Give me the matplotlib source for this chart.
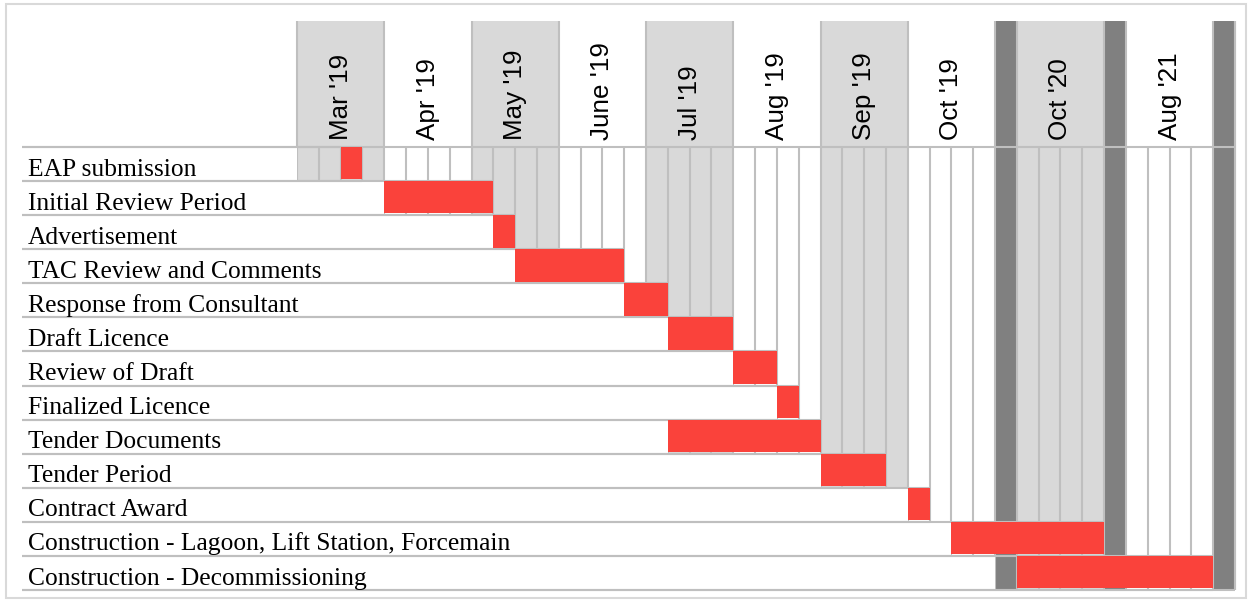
import numpy as np
import matplotlib.pyplot as plt
from matplotlib.patches import Rectangle

# Tasks, one per row (week columns counted from the first week of Mar '19)
tasks = ["EAP submission", "Initial Review Period", "Advertisement",
         "TAC Review and Comments", "Response from Consultant", "Draft Licence",
         "Review of Draft", "Finalized Licence", "Tender Documents",
         "Tender Period", "Contract Award",
         "Construction - Lagoon, Lift Station, Forcemain",
         "Construction - Decommissioning"]
start_week = [2, 4, 9, 10, 15, 17, 20, 22, 17, 24, 28, 30, 33]
duration_weeks = [1, 5, 1, 5, 2, 3, 2, 1, 7, 3, 1, 7, 9]
# column where the task's label cell stops covering the grid
label_end = [0, 4, 9, 10, 15, 17, 20, 22, 17, 24, 28, 30, 32]

# Header periods ("" = break column)
periods = ["Mar '19", "Apr '19", "May '19", "June '19", "Jul '19", "Aug '19",
           "Sep '19", "Oct '19", "", "Oct '20", "", "Aug '21", ""]
period_weeks = [4, 4, 4, 4, 4, 4, 4, 4, 1, 4, 1, 4, 1]
period_kind = ["shade", "plain", "shade", "plain", "shade", "plain",
               "shade", "plain", "break", "shade", "break", "plain", "break"]

RED = "#fa423b"
SHADE = "#d9d9d9"
DARK = "#808080"
LINE = "#bfbfbf"
fills = {"shade": SHADE, "plain": "white", "break": DARK}

# layout (pixels of the 1249x602 picture)
W, H = 1249, 602
grid_left, grid_right = 297, 1235
header_top, body_top, body_bottom = 21, 147, 590
table_left = 22

n_cols = sum(period_weeks)
n_rows = len(tasks)
cw = (grid_right - grid_left) / n_cols
rh = (body_bottom - body_top) / n_rows
label_left = (table_left - grid_left) / cw
header_h = (body_top - header_top) / rh

fig = plt.figure(figsize=(W / 100, H / 100), dpi=100)
ax = fig.add_axes([0, 0, 1, 1])
ax.set_xlim(-grid_left / cw, (W - grid_left) / cw)
ax.set_ylim((H - body_top) / rh, -body_top / rh)
ax.axis("off")

# figure frame
fig.patches.append(Rectangle((6 / W, 4 / H), 1240 / W, 594 / H, fill=False,
                             edgecolor="#d9d9d9", lw=1.5,
                             transform=fig.transFigure))

# period columns, full height
edges = np.concatenate([[0], np.cumsum(period_weeks)])
ax.bar(edges[:-1], n_rows + header_h, width=period_weeks, bottom=-header_h,
       align="edge", color=[fills[k] for k in period_kind], zorder=0)

# week lines in the body, period borders in the header
ax.vlines(np.arange(n_cols + 1), 0, n_rows, color=LINE, lw=1.5, zorder=1)
ax.vlines(edges, -header_h, 0, color=LINE, lw=1.5, zorder=1)

# header labels
for name, a, b in zip(periods, edges[:-1], edges[1:]):
    if name:
        ax.text((a + b) / 2, -0.2, name, rotation=90, ha="center", va="bottom",
                fontsize=18.7, family="Liberation Sans", zorder=5)

# rows: white label cell, borders, bar, label
for i, task in enumerate(tasks):
    end = start_week[i] + duration_weeks[i]
    ax.barh(i, label_end[i] - label_left, left=label_left, height=1,
            align="edge", color="white", zorder=2)
    reach = max(label_end[i], end)
    ax.hlines([i, i + 1], label_left, reach, color=LINE, lw=1.5, zorder=3)
    ax.barh(i, duration_weeks[i], left=start_week[i], height=0.95,
            align="edge", color=RED, zorder=4)
    ax.text(label_left + 0.28, i + 0.84, task, ha="left", va="baseline",
            fontsize=18.4, family="Liberation Serif", zorder=5)

# outer table lines
ax.hlines([0, n_rows], label_left, n_cols, color=LINE, lw=1.5, zorder=3)
ax.vlines(n_cols, -header_h, n_rows, color=LINE, lw=1.5, zorder=3)

fig.savefig("out.png", dpi=100)
